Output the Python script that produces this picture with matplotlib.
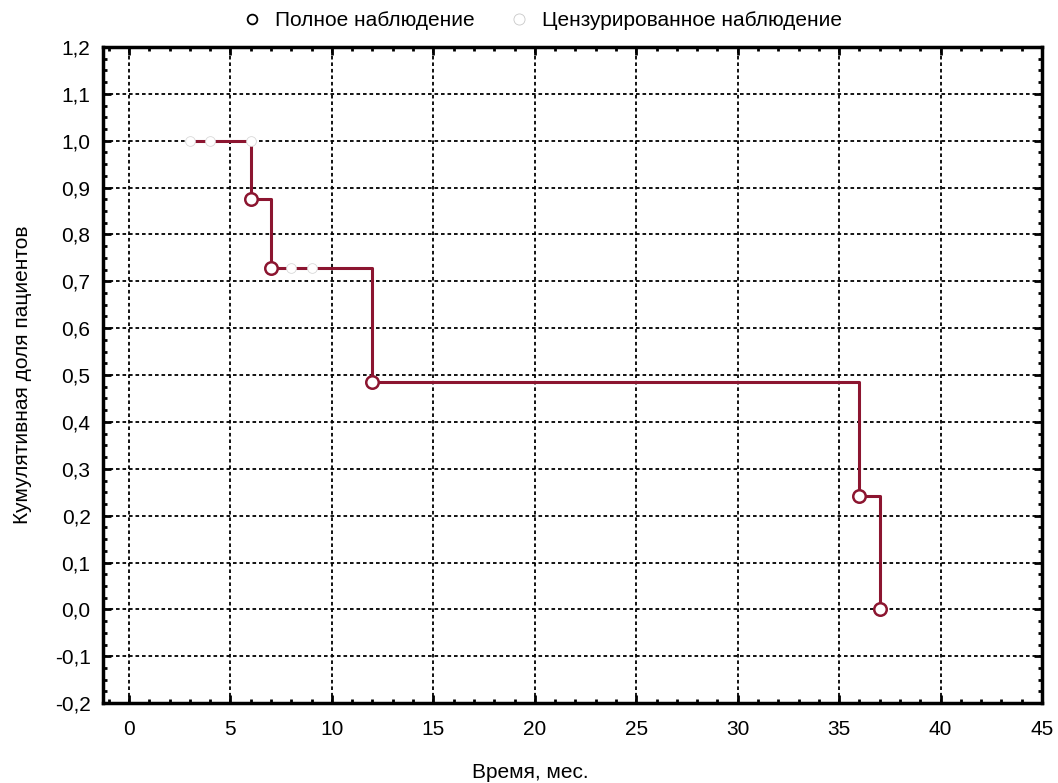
import matplotlib as mpl
import matplotlib.pyplot as plt
from matplotlib.ticker import MultipleLocator, FuncFormatter
from matplotlib.lines import Line2D

mpl.rcParams["font.family"] = ["Liberation Sans", "DejaVu Sans"]
mpl.rcParams["font.size"] = 15

# Kaplan-Meier step data
step_x = [3, 6, 6, 7, 7, 12, 12, 36, 36, 37, 37]
step_y = [1.0, 1.0, 0.875, 0.875, 0.729, 0.729, 0.486, 0.486, 0.243, 0.243, 0.0]
event_x = [6, 7, 12, 36, 37]
event_y = [0.875, 0.729, 0.486, 0.243, 0.0]
cens_x = [3, 4, 6, 8, 9]
cens_y = [1.0, 1.0, 1.0, 0.729, 0.729]

line_color = "#8c1530"

fig = plt.figure(figsize=(10.58, 7.83), dpi=100)
ax = fig.add_axes([0.0974, 0.102, 0.8875, 0.838])

ax.plot(step_x, step_y, color=line_color, linewidth=2.2, zorder=3)
ax.plot(cens_x, cens_y, linestyle="none", marker="o", markersize=7,
        markerfacecolor="white", markeredgecolor="#d8d8d8", markeredgewidth=0.6, zorder=4)
ax.plot(event_x, event_y, linestyle="none", marker="o", markersize=9,
        markerfacecolor="white", markeredgecolor=line_color, markeredgewidth=1.8, zorder=5)

ax.set_xlim(-1.28, 45)
ax.set_ylim(-0.2, 1.2)
ax.xaxis.set_major_locator(MultipleLocator(5))
ax.xaxis.set_minor_locator(MultipleLocator(1))
ax.yaxis.set_major_locator(MultipleLocator(0.1))
ax.yaxis.set_minor_locator(MultipleLocator(0.025))
ax.yaxis.set_major_formatter(FuncFormatter(lambda v, p: f"{v:.1f}".replace(".", ",").replace("-0,0", "0,0")))

ax.grid(which="major", color="black", linestyle=(0, (2, 1.6)), linewidth=1.3, zorder=1)
ax.tick_params(which="both", direction="in", top=True, right=True, width=2, labelsize=15)
ax.tick_params(axis="x", which="major", length=6, pad=12)
ax.tick_params(axis="y", which="major", length=6, pad=9)
ax.tick_params(which="minor", length=3)
for s in ax.spines.values():
    s.set_linewidth(2.5)

fig.text(530 / 1058, 1 - 772 / 783, "Время, мес.", fontsize=15, ha="center", va="center")
ax.set_ylabel("Кумулятивная доля пациентов", fontsize=15, labelpad=16)

handles = [
    Line2D([], [], linestyle="none", marker="o", markersize=7, markerfacecolor="white",
           markeredgecolor="black", markeredgewidth=1.3),
    Line2D([], [], linestyle="none", marker="o", markersize=8, markerfacecolor="white",
           markeredgecolor="#c8c8c8", markeredgewidth=0.6),
]
fig.legend(handles, ["Полное наблюдение", "Цензурированное наблюдение"], loc="center",
           bbox_to_anchor=(0.512, 0.974), ncol=2, frameon=False, fontsize=15,
           handlelength=1.0, columnspacing=1.6, handletextpad=0.6)

fig.savefig("out.png", dpi=100)
